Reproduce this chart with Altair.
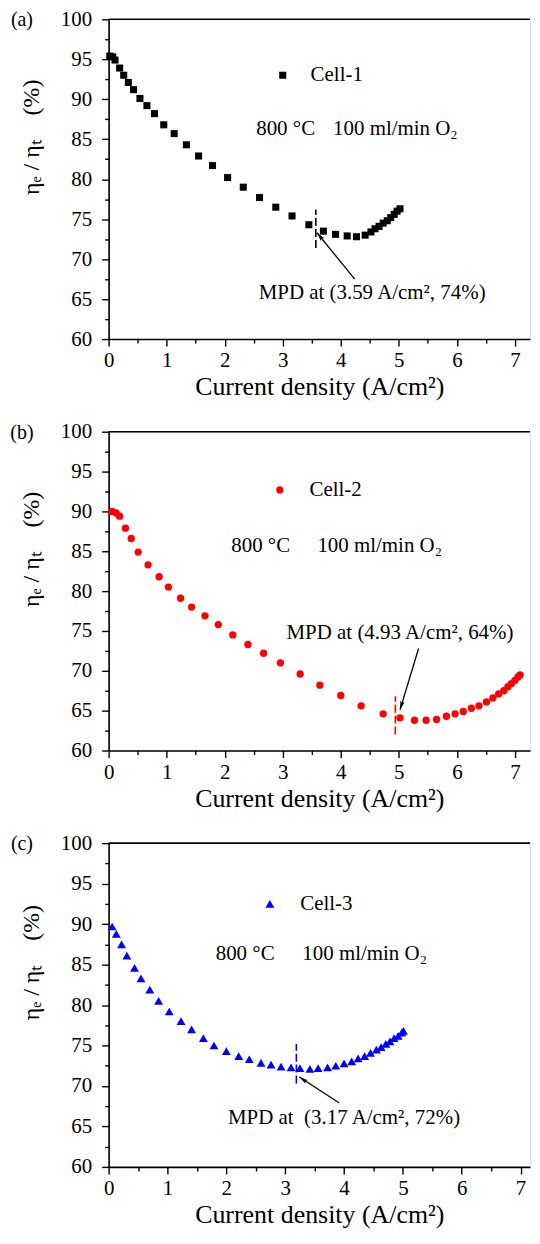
import altair as alt
import pandas as pd

FONT = "Liberation Serif"

# ---------------- data ----------------
# (a) Cell-1
a_x = [0.02, 0.07, 0.11, 0.19, 0.26, 0.34, 0.43, 0.54, 0.66, 0.79, 0.95, 1.13, 1.34, 1.55,
       1.79, 2.05, 2.32, 2.60, 2.88, 3.16, 3.45, 3.70, 3.91, 4.11, 4.27, 4.42, 4.52, 4.59,
       4.66, 4.73, 4.80, 4.86, 4.92, 4.97, 5.02]
a_y = [95.4, 95.3, 94.9, 93.9, 93.0, 92.1, 91.2, 90.1, 89.2, 88.2, 86.8, 85.7, 84.3, 82.9,
       81.7, 80.2, 79.0, 77.7, 76.5, 75.4, 74.3, 73.5, 73.1, 72.9, 72.8, 73.0, 73.4, 73.8,
       74.1, 74.5, 74.8, 75.2, 75.6, 76.0, 76.3]

# (b) Cell-2
b_x = [0.06, 0.13, 0.19, 0.29, 0.39, 0.51, 0.68, 0.87, 1.03, 1.24, 1.43, 1.66, 1.89, 2.14,
       2.40, 2.67, 2.96, 3.30, 3.64, 4.00, 4.35, 4.73, 5.02, 5.27, 5.47, 5.65, 5.82, 5.97,
       6.11, 6.25, 6.38, 6.51, 6.62, 6.72, 6.81, 6.88, 6.94, 7.00, 7.05, 7.09]
b_y = [90.0, 89.8, 89.4, 87.9, 86.6, 84.9, 83.3, 81.8, 80.5, 79.1, 78.0, 76.9, 75.8, 74.5,
       73.3, 72.2, 71.0, 69.6, 68.2, 66.9, 65.6, 64.6, 64.1, 63.8, 63.8, 63.9, 64.3, 64.6,
       64.9, 65.3, 65.6, 66.1, 66.6, 67.1, 67.5, 68.0, 68.4, 68.8, 69.2, 69.5]

# (c) Cell-3
c_x = [0.06, 0.13, 0.22, 0.31, 0.44, 0.55, 0.70, 0.85, 1.03, 1.23, 1.41, 1.61, 1.79, 2.00,
       2.21, 2.39, 2.59, 2.76, 2.93, 3.10, 3.25, 3.42, 3.56, 3.72, 3.86, 4.00, 4.13, 4.24,
       4.35, 4.45, 4.55, 4.63, 4.71, 4.78, 4.85, 4.92, 4.98, 5.01]
c_y = [89.7, 88.8, 87.5, 86.1, 84.6, 83.3, 81.9, 80.5, 79.2, 78.0, 77.0, 75.9, 75.0, 74.3,
       73.7, 73.3, 72.85, 72.65, 72.4, 72.3, 72.2, 72.1, 72.2, 72.3, 72.5, 72.8, 73.05, 73.4,
       73.7, 74.1, 74.5, 74.8, 75.2, 75.5, 75.9, 76.2, 76.6, 76.8]

y_major_ticks = [60, 65, 70, 75, 80, 85, 90, 95, 100]
y_minor_ticks = [62.5, 67.5, 72.5, 77.5, 82.5, 87.5, 92.5, 97.5]
x_major_ticks = [0, 1, 2, 3, 4, 5, 6, 7]
x_minor_ticks = [0.5, 1.5, 2.5, 3.5, 4.5, 5.5, 6.5]

panel_labels = ["(a)", "(b)", "(c)"]
legend_labels = ["Cell-1", "Cell-2", "Cell-3"]
mpd_texts = ["MPD at (3.59 A/cm\u00b2, 74%)",
             "MPD at (4.93 A/cm\u00b2, 64%)",
             "MPD at\u2002(3.17 A/cm\u00b2, 72%)"]
cond_left = "800 \u00b0C"
cond_right = "100 ml/min O\u2082"
y_title = "\u03b7\u2091 / \u03b7\u209c\u2003(%)"
x_title = "Current density (A/cm\u00b2)"

# annotation anchors (data coordinates)
legend_sym = [(3.00, 93.0), (2.95, 92.7), (2.74, 92.5)]
legend_txt = [(3.93, 93.0), (3.91, 92.7), (3.70, 92.5)]
cond_l_pos = [(3.05, 86.3), (2.62, 85.7), (2.32, 86.3)]
cond_r_pos = [(4.94, 86.3), (4.67, 85.7), (4.35, 86.3)]
mpd_txt_pos = [(4.54, 65.8), (5.02, 74.7), (4.00, 66.0)]
arrow_tail = [(4.24, 67.5), (5.34, 72.8), (3.92, 67.9)]
arrow_tip = [(3.59, 73.3), (5.02, 65.1), (3.24, 71.1)]
arrow_angle = [320.7, 196.9, 303.6]
mpd_dash_x = [3.57, 4.94, 3.19]
mpd_dash_y = [(71.4, 76.2), (62.0, 66.8), (70.3, 75.2)]

colors = ["#000000", "#ff0000", "#0000ff"]
shapes = ["square", "circle", "triangle-up"]
sizes = [50, 54, 80]

PLOT_W = 423
heights = [321, 320, 325]
x_max = [7.26, 7.26, 7.16]
title_center_val = 85.3

ARROW = "M0,0L0.5,2L0,1.6L-0.5,2Z"


def panel(i, xs, ys):
    h = heights[i]
    xs_ = alt.Scale(domain=[0, x_max[i]], nice=False, zero=False)
    ys_ = alt.Scale(domain=[60, 100], nice=False, zero=False)
    col = colors[i]

    x_major = alt.Axis(orient="bottom", values=x_major_ticks, format="d",
                       title=x_title, grid=False,
                       tickSize=7, tickWidth=1.4, domainWidth=1.6,
                       domainColor="black", tickColor="black",
                       labelFont=FONT, labelFontSize=21, labelColor="black",
                       labelPadding=4, labelFlush=False,
                       titleFont=FONT, titleFontSize=26, titleFontWeight="normal",
                       titleColor="black", titlePadding=3)
    y_major = alt.Axis(orient="left", values=y_major_ticks, format="d",
                       title=y_title, grid=False,
                       tickSize=7, tickWidth=1.4, domainWidth=1.6,
                       domainColor="black", tickColor="black",
                       labelFont=FONT, labelFontSize=21, labelColor="black",
                       labelPadding=10,
                       titleFont=FONT, titleFontSize=24, titleFontWeight="normal",
                       titleColor="black", titleX=-77,
                       titleY=(100 - title_center_val) * h / 40.0,
                       titleBaseline="middle", titleAlign="center")
    x_minor = alt.Axis(orient="bottom", values=x_minor_ticks, labels=False,
                       domain=False, grid=False, title=None, tickSize=4,
                       tickWidth=1.4, tickColor="black")
    y_minor = alt.Axis(orient="left", values=y_minor_ticks, labels=False,
                       domain=False, grid=False, title=None, tickSize=4,
                       tickWidth=1.4, tickColor="black")

    pts = pd.DataFrame({"x": xs, "y": ys})
    points = alt.Chart(pts).mark_point(
        shape=shapes[i], filled=True, size=sizes[i], color=col, opacity=1
    ).encode(x=alt.X("x:Q", scale=xs_, axis=x_major),
             y=alt.Y("y:Q", scale=ys_, axis=y_major))

    dash_df = pd.DataFrame({"x": [mpd_dash_x[i]], "y": [mpd_dash_y[i][0]],
                            "y2": [mpd_dash_y[i][1]]})
    dash = alt.Chart(dash_df).mark_rule(
        color=col, strokeDash=[8, 3], strokeWidth=1.6
    ).encode(x=alt.X("x:Q", scale=xs_, axis=x_minor),
             y=alt.Y("y:Q", scale=ys_, axis=y_minor), y2="y2:Q")

    top_df = pd.DataFrame({"x": [0.0], "x2": [x_max[i]], "y": [100.0]})
    top_line = alt.Chart(top_df).mark_rule(color="black", strokeWidth=1.6).encode(
        x=alt.X("x:Q", scale=xs_, axis=None), x2="x2:Q",
        y=alt.Y("y:Q", scale=ys_, axis=None))

    arr_df = pd.DataFrame({"x": [arrow_tail[i][0]], "y": [arrow_tail[i][1]],
                           "x2": [arrow_tip[i][0]], "y2": [arrow_tip[i][1]]})
    arrow_line = alt.Chart(arr_df).mark_rule(color="black", strokeWidth=1.3).encode(
        x=alt.X("x:Q", scale=xs_, axis=None), y=alt.Y("y:Q", scale=ys_, axis=None),
        x2="x2:Q", y2="y2:Q")
    arrow_head = alt.Chart(arr_df).mark_point(
        shape=ARROW, filled=True, size=80, color="black", opacity=1,
        angle=arrow_angle[i]
    ).encode(x=alt.X("x2:Q", scale=xs_, axis=None),
             y=alt.Y("y2:Q", scale=ys_, axis=None))

    txt_df = pd.DataFrame({
        "x": [legend_txt[i][0], cond_l_pos[i][0], cond_r_pos[i][0], mpd_txt_pos[i][0]],
        "y": [legend_txt[i][1], cond_l_pos[i][1], cond_r_pos[i][1], mpd_txt_pos[i][1]],
        "t": [legend_labels[i], cond_left, cond_right, mpd_texts[i]],
    })
    texts = alt.Chart(txt_df).mark_text(
        font=FONT, fontSize=21, color="black", align="center", baseline="middle"
    ).encode(x=alt.X("x:Q", scale=xs_, axis=None),
             y=alt.Y("y:Q", scale=ys_, axis=None), text="t:N")

    leg_df = pd.DataFrame({"x": [legend_sym[i][0]], "y": [legend_sym[i][1]]})
    leg = alt.Chart(leg_df).mark_point(
        shape=shapes[i], filled=True, size=sizes[i], color=col, opacity=1
    ).encode(x=alt.X("x:Q", scale=xs_, axis=None),
             y=alt.Y("y:Q", scale=ys_, axis=None))

    lab_df = pd.DataFrame({"t": [panel_labels[i]]})
    lab = alt.Chart(lab_df).mark_text(
        font=FONT, fontSize=20, color="black", align="center", baseline="middle"
    ).encode(x=alt.value(-87), y=alt.value(1), text="t:N")

    return alt.layer(points, dash, top_line, arrow_line, arrow_head, texts, leg, lab
                     ).resolve_axis(x="independent", y="independent"
                                    ).properties(width=PLOT_W, height=h)


chart = alt.vconcat(
    panel(0, a_x, a_y), panel(1, b_x, b_y), panel(2, c_x, c_y),
    spacing=93, bounds="flush"
).properties(
    padding={"left": 1, "top": -3, "right": 0, "bottom": 0}
).configure_view(stroke=None).configure(background="white")

chart.save("out.html", embed_options={"renderer": "svg", "actions": False})
